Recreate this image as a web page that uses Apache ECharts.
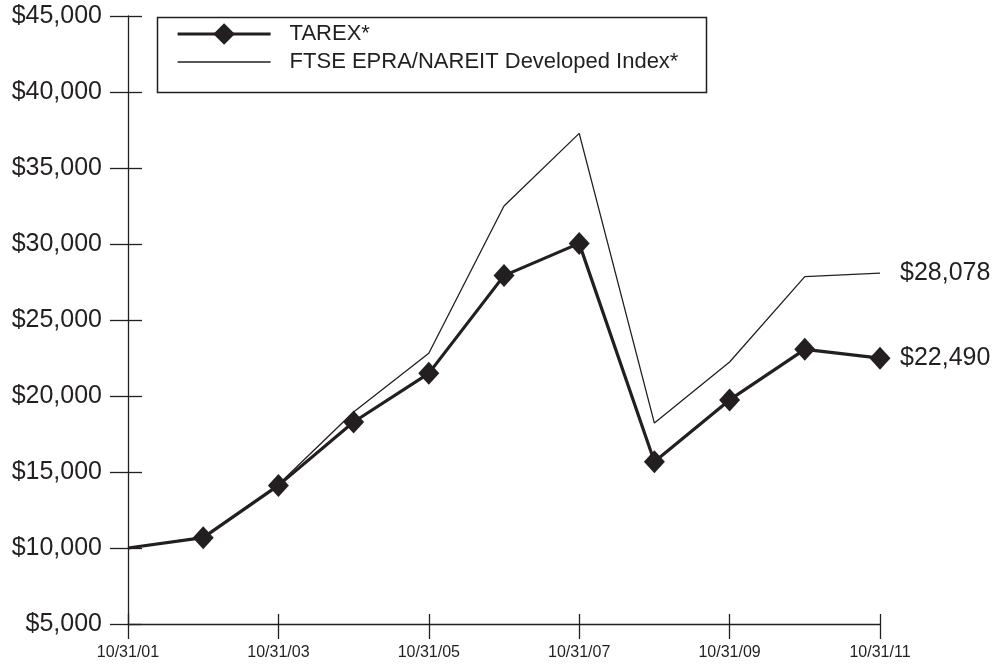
<!DOCTYPE html>
<html>
<head>
<meta charset="utf-8">
<script src="https://cdn.jsdelivr.net/npm/echarts@6/dist/echarts.min.js"></script>
<style>
html,body{margin:0;padding:0;background:#fff;}
#chart{width:997px;height:666px;}
</style>
</head>
<body>
<div id="chart"></div>
<script>
const categories = ['10/31/01','10/31/02','10/31/03','10/31/04','10/31/05','10/31/06','10/31/07','10/31/08','10/31/09','10/31/10','10/31/11'];
const tarexValues = [10000, 10680, 14120, 18290, 21490, 27920, 30040, 15680, 19740, 23070, 22490];
const ftseValues = [10000, 10720, 14180, 18950, 22810, 32500, 37280, 18220, 22240, 27850, 28078];
const seriesNames = ['TAREX*', 'FTSE EPRA/NAREIT Developed Index*'];
const yMin = 5000, yMax = 45000, yStep = 5000;

const ink = '#231f20';
const font = 'Liberation Sans, Arial, sans-serif';
const money = v => '$' + Math.round(v).toLocaleString('en-US');

const tarexData = tarexValues.map((v, i) => i === 0 ? { value: v, symbol: 'none' } : v);

const chart = echarts.init(document.getElementById('chart'));
chart.setOption({
  animation: false,
  backgroundColor: '#fff',
  grid: { left: 128, right: 117, top: 16, bottom: 42, containLabel: false },
  legend: {
    orient: 'vertical',
    left: 155, top: 23,
    padding: [0, 0, 0, 21],
    itemWidth: 93, itemHeight: 27, itemGap: 6,
    textStyle: { color: ink, fontFamily: font, fontSize: 22, padding: [3, 0, 0, 14] },
    data: [
      { name: seriesNames[0], lineStyle: { width: 3.2, color: ink }, itemStyle: { color: ink } },
      { name: seriesNames[1], lineStyle: { width: 1.3, color: ink }, itemStyle: { opacity: 0 } }
    ]
  },
  graphic: [{
    type: 'rect', left: 155, top: 15, z: 1,
    shape: { width: 549, height: 75 },
    style: { fill: 'none', stroke: ink, lineWidth: 1.5 }
  }],
  xAxis: [{
    type: 'category', data: categories, boundaryGap: false,
    axisLine: { show: true, lineStyle: { color: ink, width: 1.3 } },
    axisTick: { show: true, inside: false, length: 15, interval: 1, lineStyle: { color: ink, width: 1.3 } },
    axisLabel: { interval: 1, color: ink, fontFamily: font, fontSize: 16, margin: 21 },
    splitLine: { show: false }
  }, {
    type: 'category', data: categories, boundaryGap: false, position: 'bottom',
    axisLine: { show: false },
    axisTick: { show: true, inside: true, length: 10, interval: 1, lineStyle: { color: ink, width: 1.3 } },
    axisLabel: { show: false },
    splitLine: { show: false }
  }],
  yAxis: [{
    type: 'value', min: yMin, max: yMax, interval: yStep,
    axisLine: { show: true, lineStyle: { color: ink, width: 1.3 } },
    axisTick: { show: true, inside: false, length: 18, lineStyle: { color: ink, width: 1.3 } },
    axisLabel: { color: ink, fontFamily: font, fontSize: 25, margin: 26, formatter: money },
    splitLine: { show: false }
  }, {
    type: 'value', min: yMin, max: yMax, interval: yStep, position: 'left',
    axisLine: { show: false },
    axisTick: { show: true, inside: true, length: 14, lineStyle: { color: ink, width: 1.3 } },
    axisLabel: { show: false },
    splitLine: { show: false }
  }],
  series: [{
    name: seriesNames[0], type: 'line', data: tarexData, z: 3,
    symbol: 'diamond', symbolSize: [21, 23], showSymbol: true,
    itemStyle: { color: ink },
    lineStyle: { color: ink, width: 3.2 },
    endLabel: { show: true, distance: 20, color: ink, fontFamily: font, fontSize: 25,
      formatter: p => money(p.value) }
  }, {
    name: seriesNames[1], type: 'line', data: ftseValues, z: 2,
    symbol: 'none', showSymbol: false,
    itemStyle: { color: ink },
    lineStyle: { color: ink, width: 1.3 },
    endLabel: { show: true, distance: 20, color: ink, fontFamily: font, fontSize: 25,
      formatter: p => money(p.value) }
  }]
});
</script>
</body>
</html>
